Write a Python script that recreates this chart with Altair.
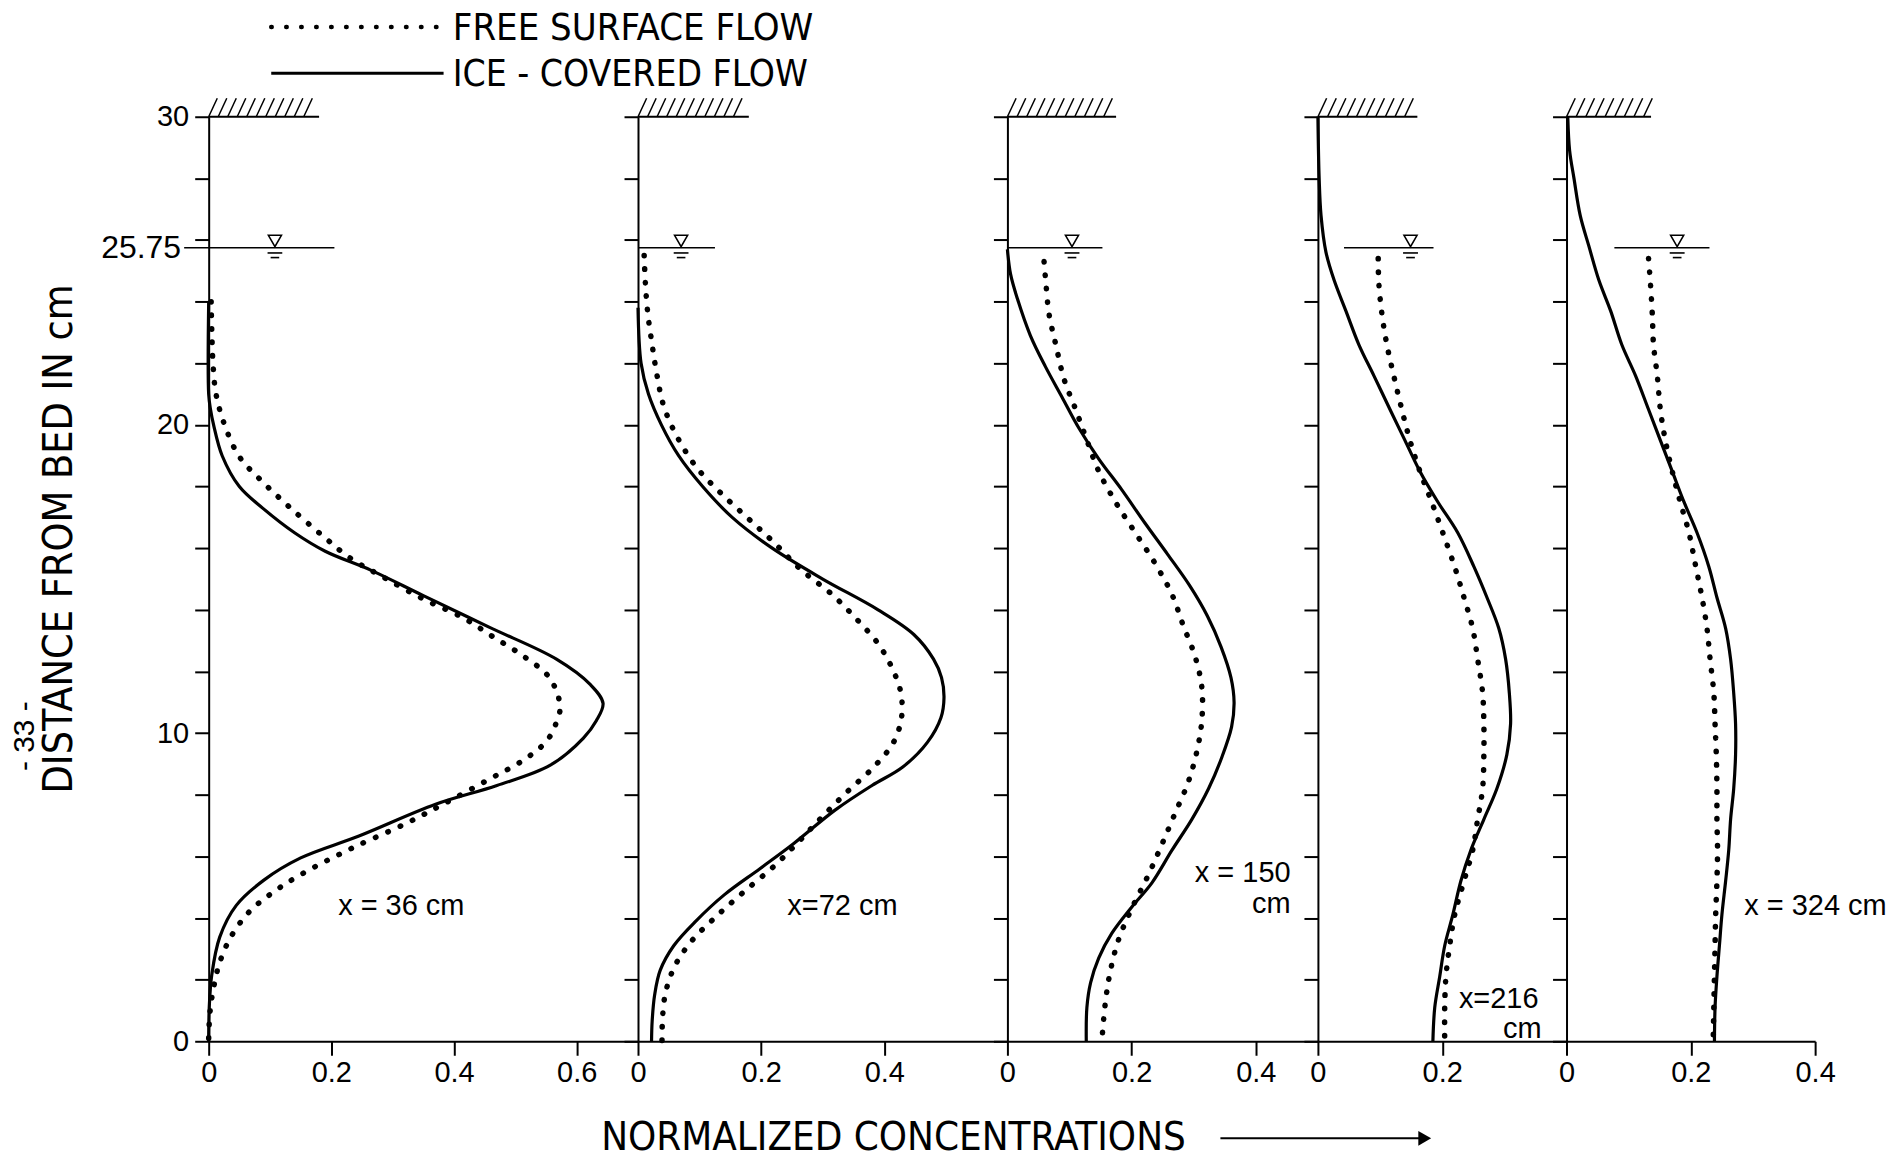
import altair as alt
import pandas as pd
import numpy as np

FONT = "Liberation Sans, Arial, Helvetica, sans-serif"
FONT_N = "Liberation Sans Narrow, DejaVu Sans Condensed, Liberation Sans, sans-serif"

# ---------------- panel set-up (normalized concentration axes) ----------------
PANEL_MAX = [0.7, 0.6, 0.5, 0.4, 0.4]
PANEL_WIDTH = [430, 370, 311, 249, 249]
PANEL_TICKS = [[0, 0.2, 0.4, 0.6], [0, 0.2, 0.4], [0, 0.2, 0.4], [0, 0.2], [0, 0.2, 0.4]]
Y_TICKS = list(range(0, 31, 2))
WATER_LEVEL = 25.75
ICE_LEVEL = 30
PLOT_H = 926

# ---------------- ice-covered flow (solid) ----------------
p1_ice_y = [24.0, 21.0, 20.5, 20.0, 19.0, 18.0, 17.3, 16.5, 15.9, 15.28, 14.46, 13.43, 12.4, 11.58, 10.97,
            10.4, 9.84, 8.96, 8.3, 7.69, 6.66, 5.95, 5.23, 4.41, 3.38, 2.15, 1.13, 0.0]
p1_ice_c = [0.0, 0.0, 0.003, 0.008, 0.022, 0.05, 0.088, 0.14, 0.19, 0.265, 0.35, 0.458, 0.567, 0.622, 0.643,
            0.632, 0.611, 0.557, 0.47, 0.37, 0.245, 0.15, 0.09, 0.045, 0.018, 0.005, 0.001, 0.0]

p2_ice_y = [23.8, 22.0, 21.0, 20.0, 19.0, 18.0, 17.0, 16.0, 15.0, 14.0, 13.2, 12.4, 11.8, 11.15, 10.5, 9.7,
            8.9, 8.3, 7.5, 6.4, 5.6, 4.75, 3.9, 3.1, 2.3, 1.5, 0.65, 0.0]
p2_ice_c = [0.0, 0.005, 0.017, 0.038, 0.066, 0.105, 0.153, 0.218, 0.3, 0.39, 0.448, 0.48, 0.493, 0.497, 0.492,
            0.47, 0.43, 0.38, 0.32, 0.252, 0.198, 0.14, 0.094, 0.058, 0.036, 0.027, 0.023, 0.022]

p3_ice_y = [25.7, 24.9, 24.1, 22.9, 21.9, 20.9, 19.9, 18.9, 17.9, 16.8, 15.8, 14.8, 13.8, 12.8, 11.8, 11.0,
            10.2, 9.2, 8.2, 7.2, 6.2, 5.15, 4.35, 3.5, 2.7, 1.9, 1.1, 0.0]
p3_ice_c = [0.0, 0.005, 0.016, 0.037, 0.061, 0.088, 0.115, 0.147, 0.184, 0.222, 0.258, 0.293, 0.322, 0.344,
            0.36, 0.365, 0.361, 0.345, 0.324, 0.297, 0.265, 0.233, 0.2, 0.168, 0.147, 0.134, 0.128, 0.127]

p4_ice_y = [30.0, 28.0, 26.8, 25.6, 24.7, 23.7, 22.6, 21.6, 20.5, 19.5, 18.5, 17.5, 16.5, 15.4, 14.4, 13.4,
            12.4, 11.3, 10.3, 9.3, 8.2, 7.2, 6.2, 5.2, 4.1, 3.1, 2.1, 1.1, 0.0]
p4_ice_c = [0.0, 0.002, 0.005, 0.013, 0.026, 0.045, 0.066, 0.09, 0.116, 0.14, 0.164, 0.193, 0.225, 0.251,
            0.272, 0.291, 0.302, 0.308, 0.31, 0.304, 0.288, 0.267, 0.246, 0.23, 0.217, 0.204, 0.196, 0.188, 0.185]

p5_ice_y = [30.0, 28.9, 28.0, 26.8, 25.8, 24.7, 23.7, 22.6, 21.6, 20.5, 19.5, 18.5, 17.5, 16.5, 15.4, 14.4,
            13.4, 12.4, 11.3, 10.3, 9.3, 8.2, 7.2, 6.2, 5.2, 4.1, 3.1, 2.1, 1.1, 0.0]
p5_ice_c = [0.002, 0.005, 0.012, 0.022, 0.036, 0.052, 0.071, 0.089, 0.111, 0.132, 0.151, 0.17, 0.189, 0.21,
            0.229, 0.242, 0.256, 0.264, 0.269, 0.272, 0.272, 0.269, 0.264, 0.261, 0.256, 0.25, 0.246, 0.242,
            0.239, 0.238]

# ---------------- free surface flow (dotted) ----------------
p1_free_y = [24.0, 23.07, 22.0, 21.0, 20.0, 18.97, 18.15, 17.33, 16.4, 15.69, 15.07, 14.35, 13.74, 13.12, 12.5,
             11.79, 10.87, 10.35, 9.74, 9.12, 8.51, 7.69, 7.07, 6.25, 5.43, 4.82, 4.2, 3.38, 2.56, 1.74, 0.92, 0.1]
p1_free_c = [0.004, 0.005, 0.007, 0.012, 0.026, 0.05, 0.088, 0.132, 0.186, 0.23, 0.284, 0.35, 0.415, 0.464, 0.513,
             0.556, 0.573, 0.567, 0.551, 0.513, 0.458, 0.382, 0.322, 0.232, 0.152, 0.104, 0.066, 0.036, 0.018, 0.008,
             0.002, 0.0]

p2_free_y = [25.5, 24.6, 23.6, 22.6, 21.6, 20.6, 19.6, 18.6, 17.8, 17.0, 16.2, 15.3, 14.5, 13.7, 12.9, 12.1,
             11.3, 10.5, 9.7, 8.9, 8.1, 7.3, 6.5, 5.7, 4.85, 4.05, 3.25, 2.45, 1.6, 0.8, 0.0]
p2_free_c = [0.01, 0.012, 0.016, 0.023, 0.031, 0.042, 0.064, 0.096, 0.134, 0.177, 0.22, 0.265, 0.315, 0.355,
             0.39, 0.413, 0.427, 0.428, 0.415, 0.383, 0.34, 0.3, 0.262, 0.222, 0.172, 0.127, 0.087, 0.06, 0.045,
             0.04, 0.039]

p3_free_y = [25.3, 24.6, 23.6, 22.6, 21.5, 20.5, 19.5, 18.5, 17.5, 16.5, 15.5, 14.5, 13.5, 12.5, 11.5, 10.4,
             9.4, 8.4, 7.4, 6.4, 5.4, 4.3, 3.3, 2.3, 1.3, 0.0]
p3_free_c = [0.059, 0.062, 0.067, 0.078, 0.091, 0.11, 0.128, 0.147, 0.174, 0.206, 0.238, 0.265, 0.283, 0.302,
             0.313, 0.313, 0.305, 0.291, 0.27, 0.249, 0.227, 0.2, 0.179, 0.166, 0.158, 0.152]

p4_free_y = [25.4, 24.6, 23.6, 22.6, 21.6, 20.5, 19.5, 18.5, 17.5, 16.5, 15.4, 14.4, 13.4, 12.4, 11.3, 10.3,
             9.3, 8.2, 7.2, 6.2, 5.2, 4.1, 3.1, 2.1, 1.1, 0.0]
p4_free_c = [0.097, 0.098, 0.103, 0.111, 0.122, 0.135, 0.148, 0.164, 0.183, 0.201, 0.22, 0.235, 0.249, 0.257,
             0.265, 0.267, 0.267, 0.265, 0.257, 0.249, 0.235, 0.22, 0.212, 0.206, 0.204, 0.204]

p5_free_y = [25.4, 24.6, 23.6, 22.6, 21.6, 20.5, 19.5, 18.5, 17.5, 16.5, 15.4, 14.4, 13.4, 12.4, 11.3, 10.3,
             9.3, 8.2, 7.2, 6.2, 5.2, 4.1, 3.1, 2.1, 1.1, 0.0]
p5_free_c = [0.132, 0.135, 0.138, 0.14, 0.146, 0.151, 0.159, 0.17, 0.183, 0.197, 0.208, 0.218, 0.226, 0.231,
             0.237, 0.239, 0.241, 0.242, 0.242, 0.243, 0.242, 0.24, 0.239, 0.238, 0.237, 0.236]

ICE = [(p1_ice_y, p1_ice_c), (p2_ice_y, p2_ice_c), (p3_ice_y, p3_ice_c), (p4_ice_y, p4_ice_c), (p5_ice_y, p5_ice_c)]
FREE = [(p1_free_y, p1_free_c), (p2_free_y, p2_free_c), (p3_free_y, p3_free_c), (p4_free_y, p4_free_c),
        (p5_free_y, p5_free_c)]

# ---------------- station labels: (text, x, y, align) ----------------
STATION_TEXT = [
    [("x = 36 cm", 0.314, 4.4, "center")],
    [("x=72 cm", 0.332, 4.4, "center")],
    [("x = 150", 0.456, 5.45, "right"), ("cm", 0.456, 4.45, "right")],
    [("x=216", 0.355, 1.38, "right"), ("cm", 0.36, 0.4, "right")],
    [("x = 324 cm", 0.286, 4.4, "left")],
]

# water surface line (start, end) and symbol position; ice cover extent
WATER_LINE = [(-0.04, 0.205), (0.0, 0.125), (0.0, 0.153), (0.042, 0.186), (0.077, 0.23)]
WATER_SYMBOL = [0.108, 0.07, 0.104, 0.149, 0.178]
ICE_END = [0.18, 0.18, 0.175, 0.16, 0.136]

# legend: (label, font size, text y, line y)
LEGEND = [("FREE SURFACE FLOW", 38, 32.84, 32.91), ("ICE - COVERED FLOW", 37, 31.34, 31.41)]
X_TITLE = "NORMALIZED CONCENTRATIONS"
Y_TITLE = "DISTANCE FROM BED IN cm"


def build_panel(k):
    xsc = alt.Scale(domain=[0, PANEL_MAX[k]], nice=False, zero=False)
    ysc = alt.Scale(domain=[0, 30], nice=False, zero=False)
    common = dict(title=None, grid=False, tickSize=14, tickWidth=2, tickColor="black",
                  domainColor="black", domainWidth=2, labelColor="black", labelFont=FONT,
                  labelFontSize=29)
    xax = alt.Axis(values=PANEL_TICKS[k], labelPadding=3, labelFlush=False, labelOverlap=False,
                   labelExpr="datum.value == 0 ? '0' : format(datum.value, '.1f')", **common)
    if k == 0:
        yax = alt.Axis(values=Y_TICKS, labelPadding=6, labelOverlap=False,
                       labelExpr="datum.value % 10 == 0 ? datum.label : ''", **common)
    else:
        yax = alt.Axis(values=Y_TICKS, labels=False, **common)

    X = alt.X("c:Q", scale=xsc, axis=xax)
    Y = alt.Y("y:Q", scale=ysc, axis=yax)

    iy, ic = ICE[k]
    fy, fc = FREE[k]
    ice_df = pd.DataFrame({"y": iy, "c": ic, "i": range(len(iy))})
    free_df = pd.DataFrame({"y": fy, "c": fc, "i": range(len(fy))})

    layers = []
    layers.append(alt.Chart(ice_df).mark_line(color="black", strokeWidth=3.2, interpolate="catmull-rom")
                  .encode(x=X, y=Y, order="i:Q"))
    layers.append(alt.Chart(free_df).mark_line(color="black", strokeWidth=5.5, strokeCap="round",
                                                strokeDash=[0.5, 13], interpolate="catmull-rom")
                  .encode(x=X, y=Y, order="i:Q"))

    # water surface
    w0, w1 = WATER_LINE[k]
    ws = WATER_SYMBOL[k]
    wl = pd.DataFrame({"c": [w0, ws - 0.012, ws - 0.007], "c2": [w1, ws + 0.012, ws + 0.007],
                       "y": [WATER_LEVEL, WATER_LEVEL - 0.17, WATER_LEVEL - 0.32]})
    layers.append(alt.Chart(wl).mark_rule(color="black", strokeWidth=1.6)
                  .encode(x=X, x2="c2:Q", y=Y))
    tri = pd.DataFrame({"c": [ws], "y": [WATER_LEVEL + 0.22]})
    layers.append(alt.Chart(tri).mark_point(shape="triangle-down", size=170, color="black",
                                            filled=False, strokeWidth=1.6, opacity=1)
                  .encode(x=X, y=Y))

    # ice cover with hatching
    ie = ICE_END[k]
    top = pd.DataFrame({"c": [0.0], "c2": [ie], "y": [ICE_LEVEL]})
    layers.append(alt.Chart(top).mark_rule(color="black", strokeWidth=2)
                  .encode(x=X, x2="c2:Q", y=Y))
    hx = np.arange(0.0, ie - 0.012, 0.0155)
    hatch = pd.DataFrame({"c": hx, "c2": hx + 0.014, "y": ICE_LEVEL, "y2": ICE_LEVEL + 0.6})
    layers.append(alt.Chart(hatch).mark_rule(color="black", strokeWidth=1.5)
                  .encode(x=X, x2="c2:Q", y=Y, y2="y2:Q"))

    # station label(s)
    for (t, tx, ty, al) in STATION_TEXT[k]:
        d = pd.DataFrame({"c": [tx], "y": [ty], "t": [t]})
        layers.append(alt.Chart(d).mark_text(font=FONT, fontSize=29, color="black", align=al,
                                             baseline="middle")
                      .encode(x=X, y=Y, text="t:N"))

    if k == 0:
        # 25.75 label
        d = pd.DataFrame({"c": [-0.045], "y": [WATER_LEVEL], "t": ["25.75"]})
        layers.append(alt.Chart(d).mark_text(font=FONT, fontSize=32, color="black", align="right",
                                             baseline="middle")
                      .encode(x=X, y=Y, text="t:N"))
        # y title
        d = pd.DataFrame({"c": [-0.243], "y": [16.3], "t": [Y_TITLE]})
        layers.append(alt.Chart(d).mark_text(font=FONT_N, fontSize=41, color="black", align="center",
                                             baseline="middle", angle=270)
                      .encode(x=X, y=Y, text="t:N"))
        d = pd.DataFrame({"c": [-0.3], "y": [9.9], "t": ["- 33 -"]})
        layers.append(alt.Chart(d).mark_text(font=FONT, fontSize=30, color="black", align="center",
                                             baseline="middle", angle=270)
                      .encode(x=X, y=Y, text="t:N"))
        # legend
        leg = pd.DataFrame({"c": [0.102], "c2": [0.383], "y": [LEGEND[0][3]]})
        layers.append(alt.Chart(leg).mark_rule(color="black", strokeWidth=4.5, strokeCap="round",
                                               strokeDash=[0.5, 14.5])
                      .encode(x=X, x2="c2:Q", y=Y))
        leg2 = pd.DataFrame({"c": [0.102], "c2": [0.383], "y": [LEGEND[1][3]]})
        layers.append(alt.Chart(leg2).mark_rule(color="black", strokeWidth=3)
                      .encode(x=X, x2="c2:Q", y=Y))
        for (lab, fs, ly, _) in LEGEND:
            d = pd.DataFrame({"c": [0.398], "y": [ly], "t": [lab]})
            layers.append(alt.Chart(d).mark_text(font=FONT_N, fontSize=fs, color="black", align="left",
                                                 baseline="middle")
                          .encode(x=X, y=Y, text="t:N"))
        # x title
        d = pd.DataFrame({"c": [0.64], "y": [-3.15], "t": [X_TITLE]})
        layers.append(alt.Chart(d).mark_text(font=FONT_N, fontSize=40, color="black", align="left",
                                             baseline="middle")
                      .encode(x=X, y=Y, text="t:N"))
    if k == 2:
        arr = pd.DataFrame({"c": [0.343], "c2": [0.672], "y": [-3.15]})
        layers.append(alt.Chart(arr).mark_rule(color="black", strokeWidth=2)
                      .encode(x=X, x2="c2:Q", y=Y))
        head = pd.DataFrame({"c": [0.672], "y": [-3.15]})
        layers.append(alt.Chart(head).mark_point(shape="triangle-right", size=220, color="black",
                                                 filled=True, opacity=1)
                      .encode(x=X, y=Y))

    return alt.layer(*layers).properties(width=PANEL_WIDTH[k], height=PLOT_H)


panels = [build_panel(k) for k in range(5)]
chart = (alt.hconcat(*panels, spacing=0, bounds="flush")
         .configure_view(stroke="transparent")
         .properties(background="white", padding={"left": 1, "top": 0, "right": 5, "bottom": 0}))

chart.save("out.html", embed_options={"renderer": "svg", "actions": False})
